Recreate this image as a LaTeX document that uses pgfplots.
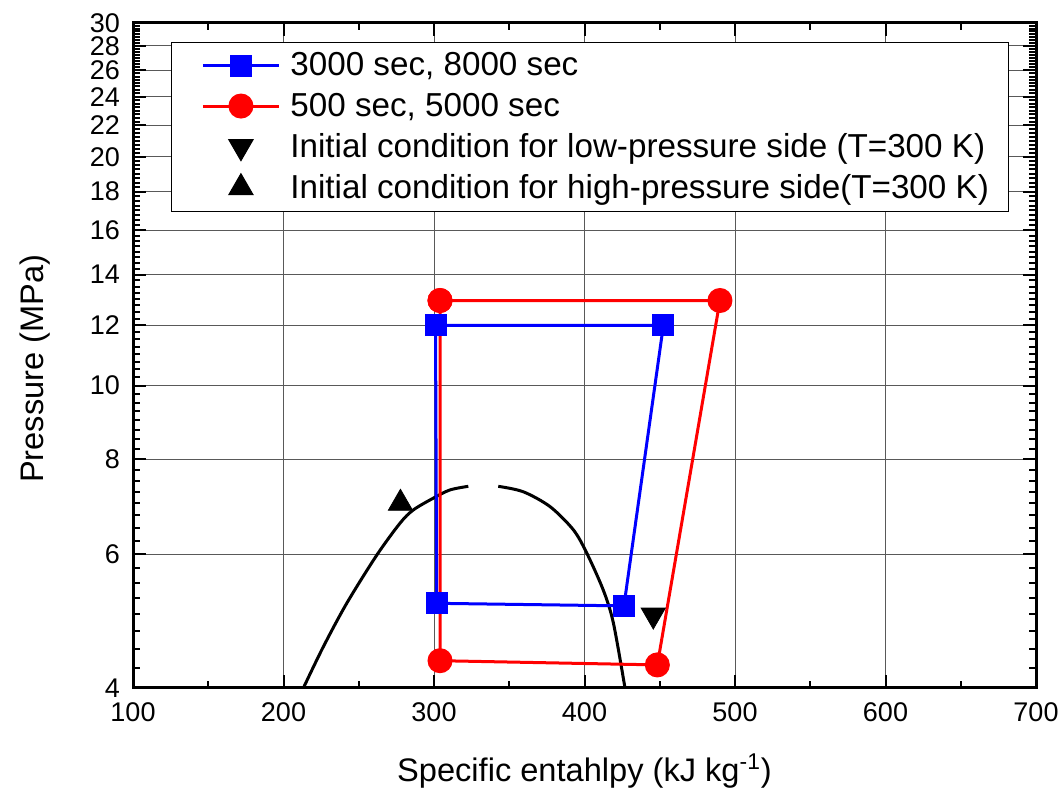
\documentclass[border=0pt]{standalone}
\usepackage{fontspec}
\setmainfont{Liberation Sans}
\usepackage{pgfplots}
\pgfplotsset{compat=1.18}

\begin{document}
\begin{tikzpicture}
\begin{axis}[
  name=ax,
  scale only axis,
  width=451.5pt, height=332.5pt,
  ymode=log,
  xmin=100, xmax=700, ymin=4, ymax=30,
  xtick={100,200,...,700},
  minor xtick={150,250,...,650},
  ytick={4,6,8,10,12,14,16,18,20,22,24,26,28,30},
  yticklabels={4,6,8,10,12,14,16,18,20,22,24,26,28,30},
  minor ytick={4,4.25,...,30},
  tick align=inside,
  major tick length=6.5pt, minor tick length=3.5pt,
  every tick/.style={black, line width=1pt},
  axis line style={line width=1.5pt},
  grid=major,
  major grid style={black!65, line width=0.5pt},
  /pgf/number format/assume math mode=true,
  ticklabel style={font=\fontsize{13.5}{15}\selectfont},
  xticklabel style={yshift=-4pt},
  yticklabel style={xshift=-3pt},
  xlabel={Specific entahlpy (kJ kg\textsuperscript{-1})},
  ylabel={Pressure (MPa)},
  label style={font=\fontsize{16.3}{19}\selectfont},
  xlabel style={at={(axis description cs:0.5,-0.125)}, anchor=center},
  ylabel style={at={(axis description cs:-0.1085,0.48)}, anchor=center},
  legend cell align=left,
  legend style={at={(axis description cs:0.042,0.971)}, anchor=north west,
    draw=black, line width=0.5pt, font=\fontsize{16.6}{19}\selectfont,
    inner xsep=8pt, inner ysep=3pt, row sep=3pt},
  legend image code/.code={\path (-7pt,0pt) (41pt,0pt);
    \draw[mark repeat=2,mark phase=2,#1] plot coordinates {(0pt,0pt) (19pt,0pt) (38pt,0pt)};},
]
% saturation dome (two branches, gap near the critical point)
\addplot[black, line width=1.5pt, smooth, forget plot] coordinates {
  (213.2,4.0) (226.4,4.53) (242.0,5.17) (261.9,5.98) (277.4,6.59)
  (286.2,6.86) (299.5,7.11) (310.6,7.29) (322.8,7.37)};
\addplot[black, line width=1.5pt, smooth, forget plot] coordinates {
  (342.7,7.37) (359.3,7.25) (377.1,6.93) (392.6,6.46) (401.5,6.02)
  (412.5,5.38) (419.2,4.87) (426.9,4.0)};

\addplot[blue, line width=1.5pt, mark=square*, mark size=4.75pt,
  mark options={fill=blue, draw=blue}] coordinates {
  (301.0,12.0) (452.4,12.0) (426.2,5.13) (301.8,5.17) (301.0,12.0)};
\addlegendentry{3000 sec, 8000 sec}

\addplot[red, line width=1.5pt, mark=*, mark size=5.5pt,
  mark options={fill=red, draw=red}] coordinates {
  (304.0,12.94) (490.0,12.94) (448.4,4.29) (304.0,4.345) (304.0,12.94)};
\addlegendentry{500 sec, 5000 sec}

\addplot[only marks, black, mark=triangle*, mark size=7pt,
  mark options={fill=black, rotate=180}] coordinates {(445.7,4.99)};
\addlegendentry{Initial condition for low-pressure side (T=300 K)}

\addplot[only marks, black, mark=triangle*, mark size=7pt,
  mark options={fill=black}] coordinates {(277.7,7.0)};
\addlegendentry{Initial condition for high-pressure side(T=300 K)}
\end{axis}
\pgfresetboundingbox
\path (ax.south west) ++(-66.5pt,-51pt) rectangle ([shift={(12.5pt,11.5pt)}]ax.north east);
\end{tikzpicture}
\end{document}
